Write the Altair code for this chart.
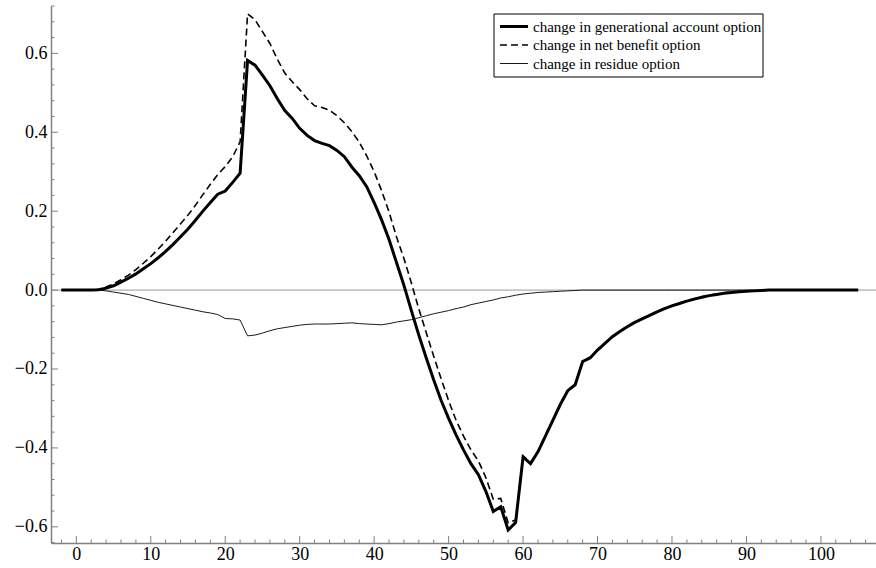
import altair as alt
import pandas as pd

# ---------------- data ----------------
ages = list(range(-2, 106))

gen_account = [
    0, 0, 0, 0, 0,                                   # -2..2
    0.001, 0.005, 0.011, 0.020, 0.030, 0.041, 0.054,  # 3..9
    0.067, 0.082, 0.098, 0.116, 0.135, 0.155, 0.177,  # 10..16
    0.200, 0.222, 0.243, 0.251, 0.273, 0.296,         # 17..22
    0.582, 0.570, 0.545, 0.518, 0.485, 0.455, 0.435,  # 23..29
    0.410, 0.392, 0.379, 0.372, 0.366, 0.354, 0.338,  # 30..36
    0.312, 0.290, 0.262, 0.222, 0.178, 0.128, 0.070,  # 37..43
    0.012, -0.052, -0.114, -0.172, -0.228, -0.280,    # 44..49
    -0.325, -0.367, -0.405, -0.440, -0.468, -0.510,   # 50..55
    -0.561, -0.549, -0.608, -0.589, -0.423, -0.440,   # 56..61
    -0.410, -0.370, -0.330, -0.290, -0.255, -0.240,   # 62..67
    -0.181, -0.172, -0.152, -0.135, -0.118, -0.105,   # 68..73
    -0.093, -0.082, -0.073, -0.064, -0.055, -0.047,   # 74..79
    -0.040, -0.034, -0.028, -0.023, -0.018, -0.014,   # 80..85
    -0.011, -0.008, -0.006, -0.004, -0.003, -0.002,   # 86..91
    -0.001, 0, 0, 0, 0, 0, 0, 0, 0, 0, 0, 0, 0, 0,    # 92..105
]

net_benefit = [
    0, 0, 0, 0, 0,                                   # -2..2
    0.002, 0.008, 0.016, 0.026, 0.038, 0.052, 0.068,  # 3..9
    0.085, 0.104, 0.124, 0.146, 0.168, 0.190, 0.215,  # 10..16
    0.242, 0.268, 0.293, 0.313, 0.338, 0.376,         # 17..22
    0.700, 0.685, 0.655, 0.625, 0.585, 0.550, 0.528,  # 23..29
    0.508, 0.485, 0.467, 0.463, 0.456, 0.442, 0.424,  # 30..36
    0.402, 0.375, 0.340, 0.300, 0.252, 0.198, 0.135,  # 37..43
    0.080, 0.018, -0.048, -0.108, -0.168, -0.225,     # 44..49
    -0.280, -0.330, -0.370, -0.405, -0.433, -0.475,   # 50..55
    -0.530, -0.528, -0.590, -0.583, -0.420, -0.437,   # 56..61
    -0.408, -0.368, -0.328, -0.289, -0.254, -0.239,   # 62..67
    -0.180, -0.171, -0.151, -0.134, -0.117, -0.104,   # 68..73
    -0.092, -0.081, -0.072, -0.063, -0.054, -0.046,   # 74..79
    -0.039, -0.033, -0.027, -0.022, -0.017, -0.013,   # 80..85
    -0.010, -0.007, -0.005, -0.004, -0.003, -0.002,   # 86..91
    -0.001, 0, 0, 0, 0, 0, 0, 0, 0, 0, 0, 0, 0, 0,    # 92..105
]

residue = [
    0, 0, 0, 0, 0,                                   # -2..2
    0, -0.002, -0.005, -0.008, -0.011, -0.016, -0.021, # 3..9
    -0.026, -0.031, -0.035, -0.039, -0.043, -0.047,   # 10..15
    -0.051, -0.055, -0.058, -0.062, -0.072, -0.073,   # 16..21
    -0.076, -0.116, -0.114, -0.109, -0.103, -0.098,   # 22..27
    -0.095, -0.092, -0.089, -0.087, -0.086, -0.086,   # 28..33
    -0.086, -0.085, -0.084, -0.083, -0.085, -0.086,   # 34..39
    -0.087, -0.088, -0.085, -0.081, -0.078, -0.075,   # 40..45
    -0.070, -0.065, -0.060, -0.056, -0.052, -0.047,   # 46..51
    -0.043, -0.037, -0.033, -0.029, -0.025, -0.020,   # 52..57
    -0.017, -0.013, -0.010, -0.008, -0.006, -0.005,   # 58..63
    -0.004, -0.003, -0.002, -0.001,                   # 64..67
    0, 0, 0, 0, 0, 0, 0, 0, 0, 0, 0, 0, 0, 0, 0, 0, 0, 0, 0,     # 68..86
    0, 0, 0, 0, 0, 0, 0, 0, 0, 0, 0, 0, 0, 0, 0, 0, 0, 0, 0,     # 87..105
]

series_names = [
    "change in generational account option",
    "change in net benefit option",
    "change in residue option",
]

x_major = [0, 10, 20, 30, 40, 50, 60, 70, 80, 90, 100]
x_minor = [v for v in range(-2, 107, 2) if v % 10 != 0]
y_major = [-0.6, -0.4, -0.2, 0.0, 0.2, 0.4, 0.6]
y_minor = [round(-0.64 + 0.04 * i, 2) for i in range(35)]
y_minor = [v for v in y_minor if abs(v / 0.2 - round(v / 0.2)) > 1e-6]

# ---------------- layout / style ----------------
W, H = 825, 537
FONT = "Liberation Serif"
X_DOM = [-3.4, 107.4]
Y_DOM = [-0.641, 0.72]
AXIS_GRAY = "#808080"

xs = alt.Scale(domain=X_DOM, nice=False, zero=False)
ys = alt.Scale(domain=Y_DOM, nice=False, zero=False)
axis_style = dict(title=None, grid=False, ticks=False, domainColor=AXIS_GRAY,
                  domainWidth=1.5, labelFont=FONT, labelFontSize=18,
                  labelColor="black")
x_axis = alt.Axis(values=x_major, format="d", labelPadding=2, **axis_style)
y_axis = alt.Axis(values=y_major, format=".1f", labelPadding=4, **axis_style)

df = pd.DataFrame({
    "age": ages,
    "gen": gen_account,
    "net": net_benefit,
    "res": residue,
})

base = alt.Chart(df)

zero_line = alt.Chart(pd.DataFrame({"z": [0]})).mark_rule(
    color="#9a9a9a", strokeWidth=1
).encode(
    y=alt.Y("z:Q", scale=ys, axis=y_axis),
    x=alt.value(0), x2=alt.value(W),
)

line_gen = base.mark_line(color="black", strokeWidth=3).encode(
    x=alt.X("age:Q", scale=xs, axis=x_axis),
    y=alt.Y("gen:Q", scale=ys, axis=y_axis),
)
line_net = base.mark_line(color="black", strokeWidth=1.6,
                          strokeDash=[7, 4]).encode(
    x=alt.X("age:Q", scale=xs, axis=x_axis),
    y=alt.Y("net:Q", scale=ys, axis=y_axis))
line_res = base.mark_line(color="black", strokeWidth=0.9).encode(
    x=alt.X("age:Q", scale=xs, axis=x_axis),
    y=alt.Y("res:Q", scale=ys, axis=y_axis))

# tick marks pointing inward
def xticks(vals, length):
    return alt.Chart(pd.DataFrame({"t": vals})).mark_rule(
        color=AXIS_GRAY, strokeWidth=1
    ).encode(x=alt.X("t:Q", scale=xs, axis=x_axis),
             y=alt.value(H), y2=alt.value(H - length))

def yticks(vals, length):
    return alt.Chart(pd.DataFrame({"t": vals})).mark_rule(
        color=AXIS_GRAY, strokeWidth=1
    ).encode(y=alt.Y("t:Q", scale=ys, axis=y_axis),
             x=alt.value(0), x2=alt.value(length))

# legend (manual, boxed)
one = pd.DataFrame({"a": [0]})
LX0, LX1, LY0, LY1 = 443, 712, 8, 71
row_y = [20.5, 39, 57.5]
leg_box = alt.Chart(one).mark_rect(fill="white", stroke="black",
                                   strokeWidth=1).encode(
    x=alt.value(LX0), x2=alt.value(LX1), y=alt.value(LY0), y2=alt.value(LY1))
leg_styles = [dict(strokeWidth=3), dict(strokeWidth=1.6, strokeDash=[7, 4]),
              dict(strokeWidth=0.9)]
leg_layers = [leg_box]
for name, ry, st in zip(series_names, row_y, leg_styles):
    leg_layers.append(
        alt.Chart(one).mark_rule(color="black", **st).encode(
            x=alt.value(LX0 + 6), x2=alt.value(LX0 + 34),
            y=alt.value(ry)))
    leg_layers.append(
        alt.Chart(pd.DataFrame({"label": [name]})).mark_text(
            align="left", baseline="middle", font=FONT, fontSize=15,
            color="black").encode(
            x=alt.value(LX0 + 39), y=alt.value(ry), text="label:N"))

chart = alt.layer(
    zero_line, line_gen, line_net, line_res,
    xticks(x_major, 7), xticks(x_minor, 3.5),
    yticks(y_major, 7), yticks(y_minor, 3.5),
    *leg_layers,
).properties(
    width=W, height=H,
    autosize=alt.AutoSizeParams(type="none"),
    padding={"left": 51, "top": 6, "right": 0, "bottom": 25},
    background="white",
).configure_view(stroke=None).configure_axis(
    grid=False, ticks=False, domainColor=AXIS_GRAY, domainWidth=1.5,
    labelFont=FONT, labelFontSize=18, labelColor="black",
)

chart.save("out.html", embed_options={"renderer": "svg", "actions": False})
